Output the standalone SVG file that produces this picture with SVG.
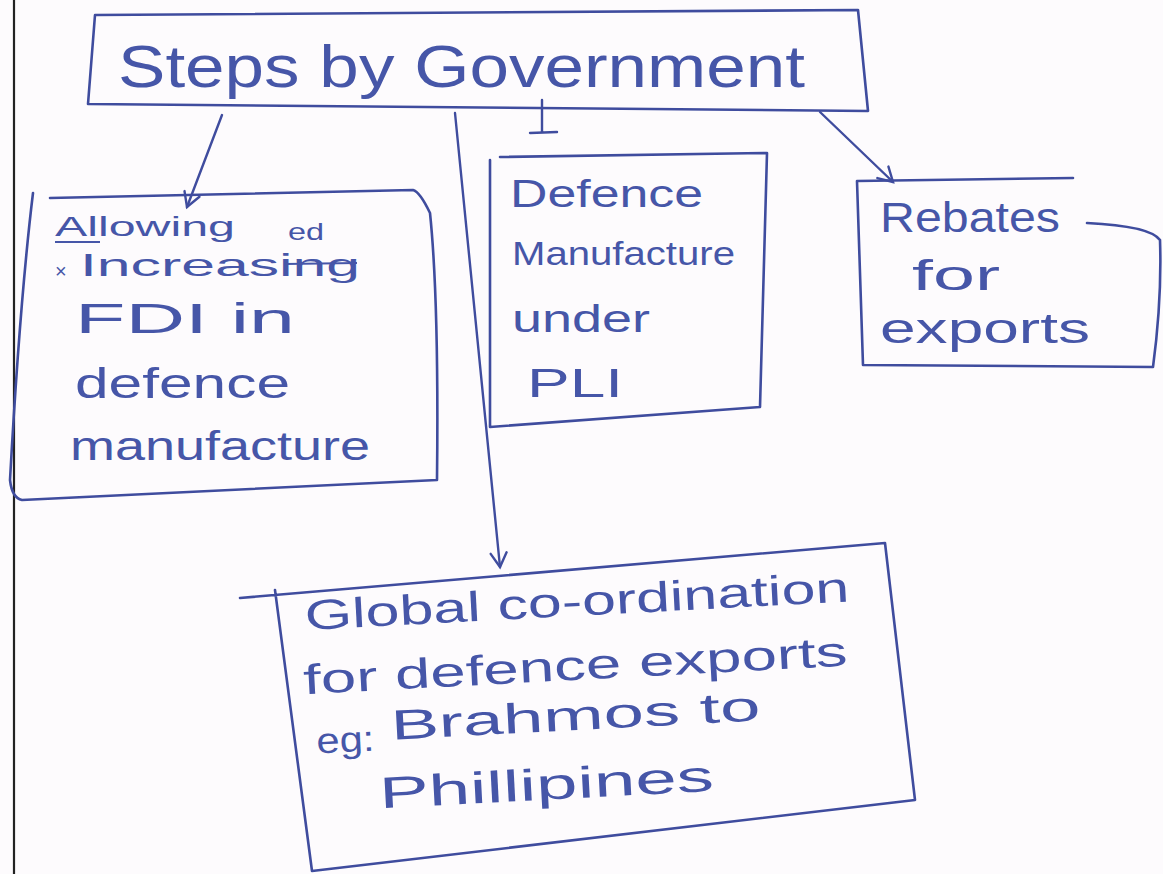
<svg xmlns="http://www.w3.org/2000/svg" width="1163" height="874" viewBox="0 0 1163 874">
<defs>
<style>
.box{fill:none;stroke:#3f4c9e;stroke-width:2.6;stroke-linejoin:round;stroke-linecap:round}
.con{fill:none;stroke:#3f4c9e;stroke-width:2.4;stroke-linecap:round}
.t{font-family:"Liberation Sans","DejaVu Sans",sans-serif;fill:#4656a8}
</style>
<marker id="arr" viewBox="0 0 20 20" refX="16" refY="10" markerWidth="20" markerHeight="20" markerUnits="userSpaceOnUse" orient="auto">
<path d="M2,2 L16,10 L2,18" fill="none" stroke="#3f4c9e" stroke-width="2.4" stroke-linecap="round"/>
</marker>
</defs>
<rect x="0" y="0" width="1163" height="874" fill="#fdfbfd"/>
<line x1="14" y1="0" x2="14" y2="874" stroke="#222" stroke-width="2.2"/>

<g id="connectors">
<path class="con" d="M222,115 L187,207" marker-end="url(#arr)"/>
<path class="con" d="M455,113 L500,567" marker-end="url(#arr)"/>
<path class="con" d="M542,100 L542,132 M530,133 L557,132"/>
<path class="con" d="M820,112 L893,182" marker-end="url(#arr)"/>
</g>

<g id="node-top">
<path class="box" d="M95,15 L858,10 L868,111 L88,104 Z"/>
<text class="t" x="118" y="87" font-size="60" textLength="687" lengthAdjust="spacingAndGlyphs">Steps by Government</text>
</g>

<g id="node-fdi">
<path class="box" d="M33,193 Q20,300 10,480 Q12,498 22,500 L437,480 Q439,300 430,213 Q420,192 413,190 L50,198"/>
<text class="t" x="55" y="236" font-size="27" textLength="180" lengthAdjust="spacingAndGlyphs">Allowing</text>
<line x1="55" y1="242" x2="100" y2="242" stroke="#4656a8" stroke-width="2"/>
<text class="t" x="288" y="240" font-size="24" textLength="36" lengthAdjust="spacingAndGlyphs">ed</text>
<text class="t" x="55" y="278" font-size="20">×</text>
<text class="t" x="80" y="276" font-size="32" textLength="280" lengthAdjust="spacingAndGlyphs">Increasing</text>
<line x1="285" y1="264" x2="357" y2="263" stroke="#4656a8" stroke-width="2"/>
<text class="t" x="75" y="333" font-size="42" textLength="220" lengthAdjust="spacingAndGlyphs">FDI in</text>
<text class="t" x="75" y="398" font-size="42" textLength="215" lengthAdjust="spacingAndGlyphs">defence</text>
<text class="t" x="70" y="460" font-size="40" textLength="300" lengthAdjust="spacingAndGlyphs">manufacture</text>
</g>

<g id="node-pli">
<path class="box" d="M490,160 L490,427 L760,407 L767,153 L500,157"/>
<text class="t" x="510" y="207" font-size="38" textLength="193" lengthAdjust="spacingAndGlyphs">Defence</text>
<text class="t" x="512" y="265" font-size="34" textLength="223" lengthAdjust="spacingAndGlyphs">Manufacture</text>
<text class="t" x="512" y="332" font-size="38" textLength="138" lengthAdjust="spacingAndGlyphs">under</text>
<text class="t" x="527" y="397" font-size="40" textLength="96" lengthAdjust="spacingAndGlyphs">PLI</text>
</g>

<g id="node-rebates">
<path class="box" d="M1073,178 L857,181 L863,365 L1153,367 Q1162,300 1160,240 Q1150,226 1087,223"/>
<text class="t" x="880" y="232" font-size="42" textLength="180" lengthAdjust="spacingAndGlyphs">Rebates</text>
<text class="t" x="912" y="290" font-size="42" textLength="88" lengthAdjust="spacingAndGlyphs">for</text>
<text class="t" x="880" y="343" font-size="42" textLength="210" lengthAdjust="spacingAndGlyphs">exports</text>
</g>

<g id="node-global">
<path class="box" d="M240,598 L885,543 L915,800 L312,871 L275,590"/>
<g transform="rotate(-3 305 620)">
<text class="t" x="305" y="630" font-size="42" textLength="545" lengthAdjust="spacingAndGlyphs">Global co-ordination</text>
<text class="t" x="300" y="694" font-size="42" textLength="545" lengthAdjust="spacingAndGlyphs">for defence exports</text>
<text class="t" x="310" y="754" font-size="36" textLength="58" lengthAdjust="spacingAndGlyphs">eg:</text>
<text class="t" x="385" y="744" font-size="42" textLength="370" lengthAdjust="spacingAndGlyphs">Brahmos to</text>
<text class="t" x="370" y="812" font-size="44" textLength="335" lengthAdjust="spacingAndGlyphs">Phillipines</text>
</g>
</g>
</svg>
